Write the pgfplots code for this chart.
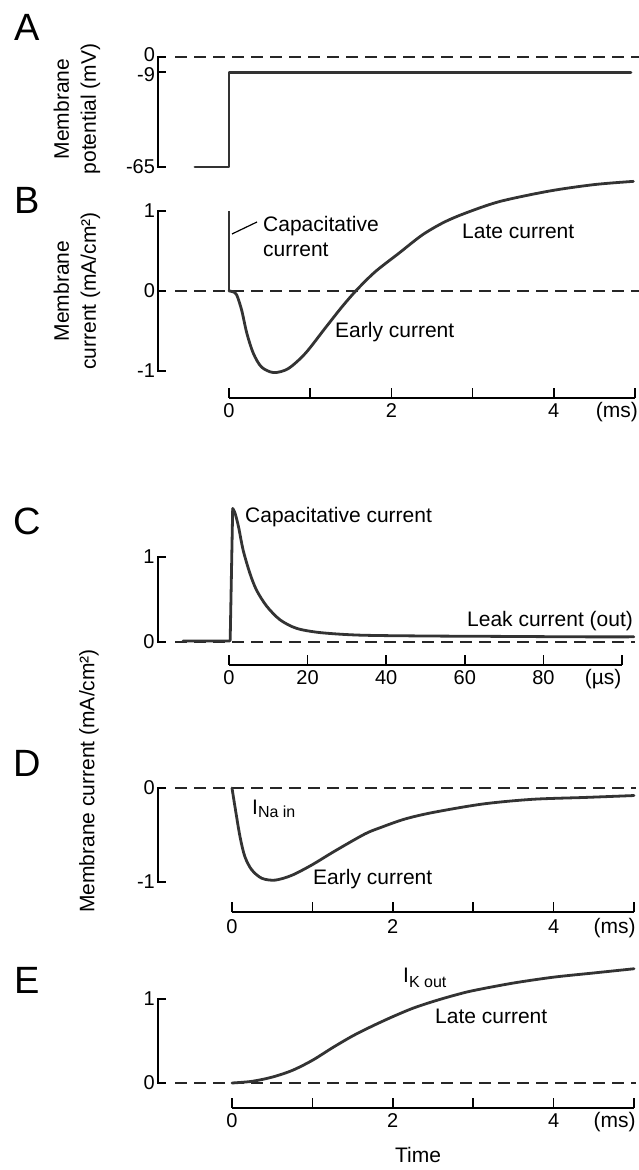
\documentclass[border=0pt]{standalone}
\usepackage{pgfplots}
\pgfplotsset{compat=1.18}
\usepackage{fontspec}
\setmainfont{Liberation Sans}

\begin{document}
\begin{tikzpicture}[font=\fontsize{21}{26}\selectfont,
  trace/.style={line width=2.8pt, black!80, line join=round, line cap=round},
  zero/.style={line width=1.4pt, black!85, dash pattern=on 12pt off 7pt},
  bar/.style={line width=1.5pt, black},
  lbl/.style={inner sep=0pt},
  num/.style={inner sep=0pt, font=\fontsize{20}{24}\selectfont}]
\useasboundingbox (0,0) rectangle (639pt,1170pt);
\pgfplotsset{panel/.style={at={(0pt,0pt)}, anchor=south west, scale only axis,
  width=639pt, height=1170pt, hide axis, clip=false}}

% ---------------- A: voltage step ----------------
\begin{axis}[panel, xmin=-2.8202, xmax=5.0493, ymin=-657.68, ymax=33.682]
\addplot[zero] coordinates {(-0.665,0) (5.05,0)};
\addplot[trace] coordinates {(-0.42,-65) (0,-65) (0,-9) (4.95,-9)};
\draw[bar] (axis cs:-0.7759,0) -- (axis cs:-0.8744,0) -- (axis cs:-0.8744,-65) -- (axis cs:-0.7759,-65);
\draw[bar] (axis cs:-0.8744,-9) -- (axis cs:-0.7759,-9);
\node[num, anchor=east] at (axis cs:-0.91,1.5) {0};
\node[num, anchor=east] at (axis cs:-0.91,-10.5) {-9};
\node[num, anchor=east] at (axis cs:-0.91,-65) {-65};
\end{axis}

% ---------------- B: total membrane current ----------------
\begin{axis}[panel, xmin=-2.8202, xmax=5.0493, ymin=-10.9875, ymax=3.6375]
\addplot[zero] coordinates {(-0.665,0) (5.05,0)};
\addplot[line width=1.8pt, black!80] coordinates {(0,0) (0,1.0)};
\addplot[trace, smooth, tension=0.5] coordinates {
  (0,0) (0.05,-0.01) (0.095,-0.05) (0.156,-0.24) (0.22,-0.53) (0.30,-0.78)
  (0.40,-0.95) (0.55,-1.02) (0.73,-0.97) (0.94,-0.78) (1.18,-0.47) (1.39,-0.20)
  (1.57,0.01) (1.80,0.24) (2.09,0.47) (2.38,0.70) (2.65,0.86) (2.93,0.98)
  (3.34,1.12) (3.95,1.25) (4.5,1.33) (4.98,1.37)};
\draw[bar] (axis cs:-0.7759,1) -- (axis cs:-0.8744,1) -- (axis cs:-0.8744,-1) -- (axis cs:-0.7759,-1);
\draw[bar] (axis cs:-0.8744,0) -- (axis cs:-0.7759,0);
\node[num, anchor=east] at (axis cs:-0.91,1) {1};
\node[num, anchor=east] at (axis cs:-0.91,0) {0};
\node[num, anchor=east] at (axis cs:-0.91,-1) {-1};
\draw[bar] (axis cs:0,-1.3375) -- (axis cs:5,-1.3375);
\pgfplotsinvokeforeach{0,1,2,3,4,5}{\draw[bar] (axis cs:#1,-1.3375) -- (axis cs:#1,-1.2125);}
\node[num, anchor=base] at (axis cs:0,-1.5875) {0};
\node[num, anchor=base] at (axis cs:2,-1.5875) {2};
\node[num, anchor=base] at (axis cs:4,-1.5875) {4};
\node[lbl, anchor=base] at (axis cs:4.778,-1.5875) {(ms)};
\end{axis}

% ---------------- C: capacitative current (fast time base) ----------------
\begin{axis}[panel, xmin=-58.27, xmax=104.33, ymin=-6.2118, ymax=7.5529]
\addplot[zero] coordinates {(-13.74,0) (103.3,0)};
\addplot[trace] coordinates {(-11.7,0.01) (0,0.01) (0.3,0.02) (0.94,1.57)};
\addplot[trace, smooth, tension=0.5] coordinates {
  (0.94,1.57) (1.5,1.52) (2.4,1.36) (3.6,1.08) (5.3,0.81) (7.0,0.61) (9.6,0.42)
  (13.0,0.26) (17.2,0.16) (23.2,0.11) (33.3,0.08) (50,0.07) (70,0.065) (90,0.06) (103,0.06)};
\draw[bar] (axis cs:-16.03,1) -- (axis cs:-18.07,1) -- (axis cs:-18.07,0) -- (axis cs:-16.03,0);
\node[num, anchor=east] at (axis cs:-18.9,1) {1};
\node[num, anchor=east] at (axis cs:-18.9,0) {0};
\draw[bar] (axis cs:0,-0.2706) -- (axis cs:100,-0.2706);
\pgfplotsinvokeforeach{0,20,40,60,80,100}{\draw[bar] (axis cs:#1,-0.2706) -- (axis cs:#1,-0.1529);}
\node[num, anchor=base] at (axis cs:0,-0.5059) {0};
\node[num, anchor=base] at (axis cs:20,-0.5059) {20};
\node[num, anchor=base] at (axis cs:40,-0.5059) {40};
\node[num, anchor=base] at (axis cs:60,-0.5059) {60};
\node[num, anchor=base] at (axis cs:80,-0.5059) {80};
\node[lbl, anchor=base] at (axis cs:95.2,-0.5059) {(µs)};
\end{axis}

% ---------------- D: inward sodium current ----------------
\begin{axis}[panel, xmin=-2.8856, xmax=5.0622, ymin=-4.0638, ymax=8.3830]
\addplot[zero] coordinates {(-0.709,0) (5.025,0)};
\addplot[trace, smooth, tension=0.5] coordinates {
  (0,0) (0.037,-0.2) (0.10,-0.52) (0.16,-0.73) (0.245,-0.87) (0.37,-0.96)
  (0.535,-0.98) (0.74,-0.93) (0.99,-0.82) (1.28,-0.67) (1.65,-0.49) (1.85,-0.42)
  (2.15,-0.33) (2.50,-0.26) (3.12,-0.17) (3.74,-0.12) (4.4,-0.10) (5.0,-0.08)};
\draw[bar] (axis cs:-0.8209,0) -- (axis cs:-0.9204,0) -- (axis cs:-0.9204,-1) -- (axis cs:-0.8209,-1);
\node[num, anchor=east] at (axis cs:-0.957,0) {0};
\node[num, anchor=east] at (axis cs:-0.957,-1) {-1};
\draw[bar] (axis cs:0,-1.3191) -- (axis cs:5,-1.3191);
\pgfplotsinvokeforeach{0,1,2,3,4,5}{\draw[bar] (axis cs:#1,-1.3191) -- (axis cs:#1,-1.2128);}
\node[num, anchor=base] at (axis cs:0,-1.5426) {0};
\node[num, anchor=base] at (axis cs:2,-1.5426) {2};
\node[num, anchor=base] at (axis cs:4,-1.5426) {4};
\node[lbl, anchor=base] at (axis cs:4.76,-1.5426) {(ms)};
\end{axis}

% ---------------- E: outward potassium current ----------------
\begin{axis}[panel, xmin=-2.8856, xmax=5.0622, ymin=-1.0357, ymax=12.8929]
\addplot[zero] coordinates {(-0.709,0) (5.025,0)};
\addplot[trace, smooth, tension=0.5] coordinates {
  (0,0) (0.25,0.02) (0.5,0.07) (0.75,0.15) (1.0,0.27) (1.25,0.42) (1.5,0.56)
  (1.75,0.68) (2.0,0.79) (2.25,0.89) (2.5,0.97) (2.75,1.04) (3.0,1.10)
  (3.5,1.19) (4.0,1.26) (4.5,1.31) (5.0,1.36)};
\draw[bar] (axis cs:-0.8209,1) -- (axis cs:-0.9204,1) -- (axis cs:-0.9204,0) -- (axis cs:-0.8209,0);
\node[num, anchor=east] at (axis cs:-0.957,1) {1};
\node[num, anchor=east] at (axis cs:-0.957,0) {0};
\draw[bar] (axis cs:0,-0.2976) -- (axis cs:5,-0.2976);
\pgfplotsinvokeforeach{0,1,2,3,4,5}{\draw[bar] (axis cs:#1,-0.2976) -- (axis cs:#1,-0.1786);}
\node[num, anchor=base] at (axis cs:0,-0.5357) {0};
\node[num, anchor=base] at (axis cs:2,-0.5357) {2};
\node[num, anchor=base] at (axis cs:4,-0.5357) {4};
\node[lbl, anchor=base] at (axis cs:4.76,-0.5357) {(ms)};
\end{axis}

% ---------------- panel letters and labels ----------------
\begin{scope}[every node/.append style={font=\fontsize{38}{40}\selectfont}]
\node at (27pt,1143pt) {A};
\node at (27pt,970pt) {B};
\node at (27pt,649pt) {C};
\node at (27pt,407pt) {D};
\node at (27pt,190pt) {E};
\end{scope}

\node[rotate=90, align=center, font=\fontsize{21}{27}\selectfont] at (77pt,1061pt) {Membrane\\potential (mV)};
\node[rotate=90, align=center, font=\fontsize{21}{27}\selectfont] at (77pt,879pt) {Membrane\\current (mA/cm²)};
\node[rotate=90] at (89pt,389pt) {Membrane current (mA/cm²)};

% annotations of panel B
\node[lbl, anchor=base west] at (263pt,938pt) {Capacitative};
\node[lbl, anchor=base west] at (263pt,913pt) {current};
\draw[line width=1.2pt] (232pt,936pt) -- (257pt,948pt);
\node[lbl, anchor=base west] at (462pt,931pt) {Late current};
\node[lbl, anchor=base west] at (335pt,832pt) {Early current};

% annotations of panel C
\node[lbl, anchor=base west] at (245pt,647pt) {Capacitative current};
\node[lbl, anchor=base west] at (467pt,543pt) {Leak current (out)};

% annotations of panel D
\node[lbl, anchor=base west] at (252pt,355pt) {I\raisebox{-3pt}{\fontsize{16}{16}\selectfont Na in}};
\node[lbl, anchor=base west] at (313pt,285pt) {Early current};

% annotations of panel E
\node[lbl, anchor=base west] at (403pt,187pt) {I\raisebox{-5pt}{\fontsize{16}{16}\selectfont K out}};
\node[lbl, anchor=base west] at (435pt,146pt) {Late current};
\node[lbl, anchor=base] at (418pt,8pt) {Time};
\end{tikzpicture}
\end{document}
